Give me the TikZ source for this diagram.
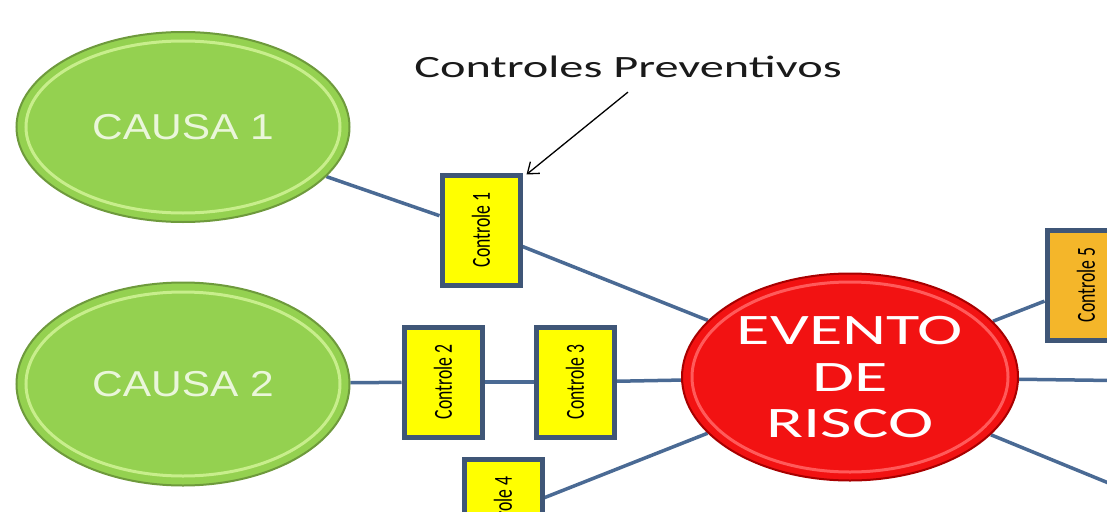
\documentclass[tikz,border=0pt]{standalone}
\usepackage{fontspec}
\usepackage{graphicx}
\usetikzlibrary{shapes.geometric,arrows.meta,backgrounds}
\newfontfamily\calib{Carlito}
\newfontfamily\arialf{Liberation Sans}
\definecolor{gmain}{HTML}{94D150}
\definecolor{grim}{HTML}{C8EE8C}
\definecolor{gedge}{HTML}{6E9A3C}
\definecolor{rmain}{HTML}{F21212}
\definecolor{rrim}{HTML}{FF5A5A}
\definecolor{redge}{HTML}{A80000}
\definecolor{linkc}{HTML}{4A6A94}
\definecolor{boxc}{HTML}{3F5677}
\definecolor{ctlyel}{HTML}{FFFF00}
\definecolor{ctlorg}{HTML}{F4B62A}
\definecolor{causatxt}{HTML}{EAF6DA}
\definecolor{lbltxt}{HTML}{1A1A1A}
\newcommand{\ctltext}[1]{\rotatebox{90}{\scalebox{0.68}[1]{\calib\fontsize{26}{26}\selectfont #1}}}
\begin{document}
\begin{tikzpicture}[x=1pt,y=-1pt,
  causa/.style={ellipse, draw=gedge, line width=2pt, fill=gmain, inner sep=0pt,
    minimum width=333pt, minimum height=190pt, text=causatxt,
    font=\arialf\fontsize{36}{36}\selectfont,
    path picture={\draw[grim, line width=3pt] (path picture bounding box.center) ellipse [x radius=157pt, y radius=#1];}},
  causa/.default=86pt,
  evento/.style={ellipse, draw=redge, line width=2pt, fill=rmain, inner sep=0pt,
    minimum width=336pt, minimum height=207pt, text=white, align=center,
    path picture={\draw[rrim, line width=3pt] (path picture bounding box.center) ellipse [x radius=158pt, y radius=95pt];}},
  ctlbox/.style={rectangle, draw=boxc, line width=5pt, fill=ctlyel, inner sep=0pt,
    minimum width=78pt, minimum height=110pt},
  link/.style={draw=linkc, line width=3.5pt},
  arr/.style={draw=black, line width=1.3pt, -{Straight Barb[length=10pt,width=15pt,line width=1.3pt]}}
]
\clip (0,0) rectangle (1107,511);

\node[causa] (c1) at (183,127) {\scalebox{1.18}[1]{CAUSA 1}};
\node[causa=92pt, minimum height=203pt] (c2) at (183,384) {\scalebox{1.18}[1]{CAUSA 2}};

\node[evento] (ev) at (850,377) {\raisebox{-5pt}[\height][\depth]{\scalebox{1.57}[1]{\calib\fontsize{43.5}{46.5}\selectfont\begin{tabular}{@{}c@{}}EVENTO\\DE\\RISCO\end{tabular}}}};

\node[ctlbox] (k1) at (481,230) {\ctltext{Controle 1}};
\node[ctlbox] (k2) at (443,382) {\ctltext{Controle 2}};
\node[ctlbox] (k3) at (575,382) {\ctltext{Controle 3}};
\node[ctlbox] (k4) at (503,514) {\ctltext{Controle 4}};
\node[ctlbox, fill=ctlorg] (k5) at (1086,285) {\ctltext{Controle 5}};

\coordinate (r1) at (1150,381);
\coordinate (r2) at (1150,500);

\node[font=\calib\fontsize{31}{31}\selectfont, text=lbltxt, inner sep=0pt] (lbl) at (628,67) {\scalebox{1.56}[1]{Controles Preventivos}};

\begin{scope}[on background layer]
\fill[white] (0,0) rectangle (1107,511);
\draw[link] (c1) -- (k1);
\draw[link] (k1) -- (ev);
\draw[link] (c2) -- (k2);
\draw[link] (k2) -- (k3);
\draw[link] (k3) -- (ev);
\draw[link] (k4) -- (ev);
\draw[link] (ev) -- (k5);
\draw[link] (ev) -- (r1);
\draw[link] (ev) -- (r2);
\end{scope}

\draw[arr] ([yshift=-14pt]lbl.south) -- ([shift={(4pt,-2pt)}]k1.north east);
\end{tikzpicture}
\end{document}
